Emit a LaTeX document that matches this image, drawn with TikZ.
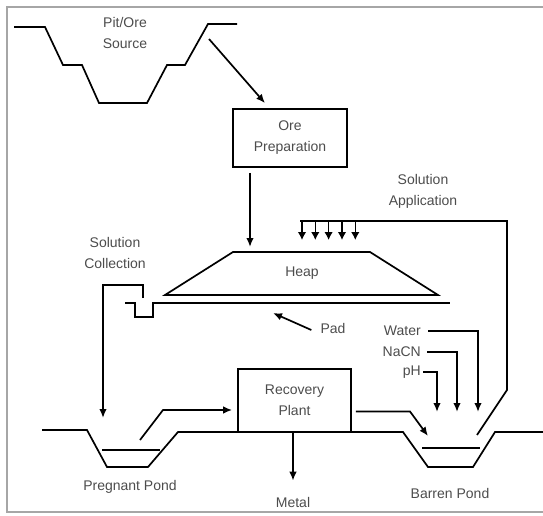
\documentclass[tikz,border=0pt]{standalone}
\usepackage{fontspec}
\setmainfont{Liberation Sans}
\usetikzlibrary{arrows.meta}

\tikzset{
  flow/.style={line width=1.7pt},
  arr/.style={flow,-{Latex[length=9pt,width=7.5pt]}},
  drip/.style={line width=1.3pt,-{Latex[length=8pt,width=8.5pt]}},
  lbl/.style={align=center,text=black!70,font=\fontsize{14}{21}\selectfont,inner sep=0pt},
  unit/.style={lbl,draw=black,line width=1.7pt,minimum width=114pt,minimum height=58pt},
}

\begin{document}
\begin{tikzpicture}[x=1pt,y=-1pt]
    \useasboundingbox (0,0) rectangle (543,516);
    \draw[black!35,line width=1.5pt] (545,7) -- (7,7) -- (7,512) -- (545,512);

    % pit and ore preparation
    \draw[flow] (14,27) -- (45,27) -- (63,65) -- (82,65) -- (99,103) -- (147,103) -- (167,65) -- (185,65) -- (208,24) -- (237,24);
    \node[lbl] (pit) at (125,33) {Pit/Ore\\Source};

    \node[unit] (prep) at (290,138) {Ore\\Preparation};
    \coordinate (pitout) at (209,39);
    \draw[arr] (pitout) -- ([xshift=-25pt,yshift=5pt]prep.north);

    % heap on its pad
    \draw[flow] (165,295) -- (233,252) -- (370,252) -- (438,295) -- cycle;
    \node[lbl] (heap) at (302,273) {Heap};
    \coordinate (heaptop) at (250,247);
    \draw[arr] ([xshift=-40pt,yshift=-5pt]prep.south) -- (heaptop);

    \draw[flow] (125,303) -- (135,303) -- (135,317) -- (153,317) -- (153,303) -- (450,303);
    \node[lbl] (pad) at (333,328) {Pad};
    \coordinate (padtop) at (273,313);
    \draw[arr] ([xshift=-9pt,yshift=-2pt]pad.west) -- (padtop);

    % solution application
    \node[lbl] (appl) at (423,191) {Solution\\Application};
    \draw[flow] (477,435) -- (507,390) -- (507,221) -- (300,221);
    \foreach \x in {302,315.3,328.6,342,355.3}
        \draw[drip] (\x,221) -- (\x,240);

    % solution collection
    \node[lbl] (coll) at (115,253) {Solution\\Collection};
    \coordinate (pregin) at (103,418);
    \draw[arr] (143,298) -- (143,285) -- (103,285) -- (pregin);

    % ground, ponds and recovery plant
    \draw[flow] (42,430) -- (87,430) -- (107,467) -- (148,467) -- (178,432) -- (403,432) -- (428,467) -- (473,467) -- (495,432) -- (543,432);
    \draw[flow] (102,450) -- (160,450);
    \draw[flow] (422,448) -- (480,448);

    \node[unit,minimum width=113pt,minimum height=63pt] (plant) at (294.5,400.5) {Recovery\\Plant};
    \coordinate (pregout) at (140,440);
    \draw[arr,shorten >=5pt] (pregout) -- (163,410) -- ([yshift=-9.5pt]plant.west);

    \coordinate (barrin) at (428,436);
    \draw[arr] ([xshift=4pt,yshift=-11pt]plant.east) -- (410,411.5) -- (barrin);

    \node[lbl] (metal) at (293,502) {Metal};
    \draw[arr] ([xshift=-1.5pt]plant.south) -- ([yshift=16pt]metal.north);

    \node[lbl] (pregnant) at (130,487) {Pregnant Pond};
    \node[lbl] (barren) at (450,493) {Barren Pond};

    % reagents
    \node[lbl,anchor=east] (water) at (421,331) {Water};
    \node[lbl,anchor=east] (nacn) at (421,352) {NaCN};
    \node[lbl,anchor=east] (ph) at (421,372) {pH};
    \draw[arr] ([xshift=7pt]water.east) -| (478,412);
    \draw[arr] ([xshift=6pt]nacn.east) -| (457,412);
    \draw[arr] ([xshift=2pt]ph.east) -| (437,412);
\end{tikzpicture}
\end{document}
